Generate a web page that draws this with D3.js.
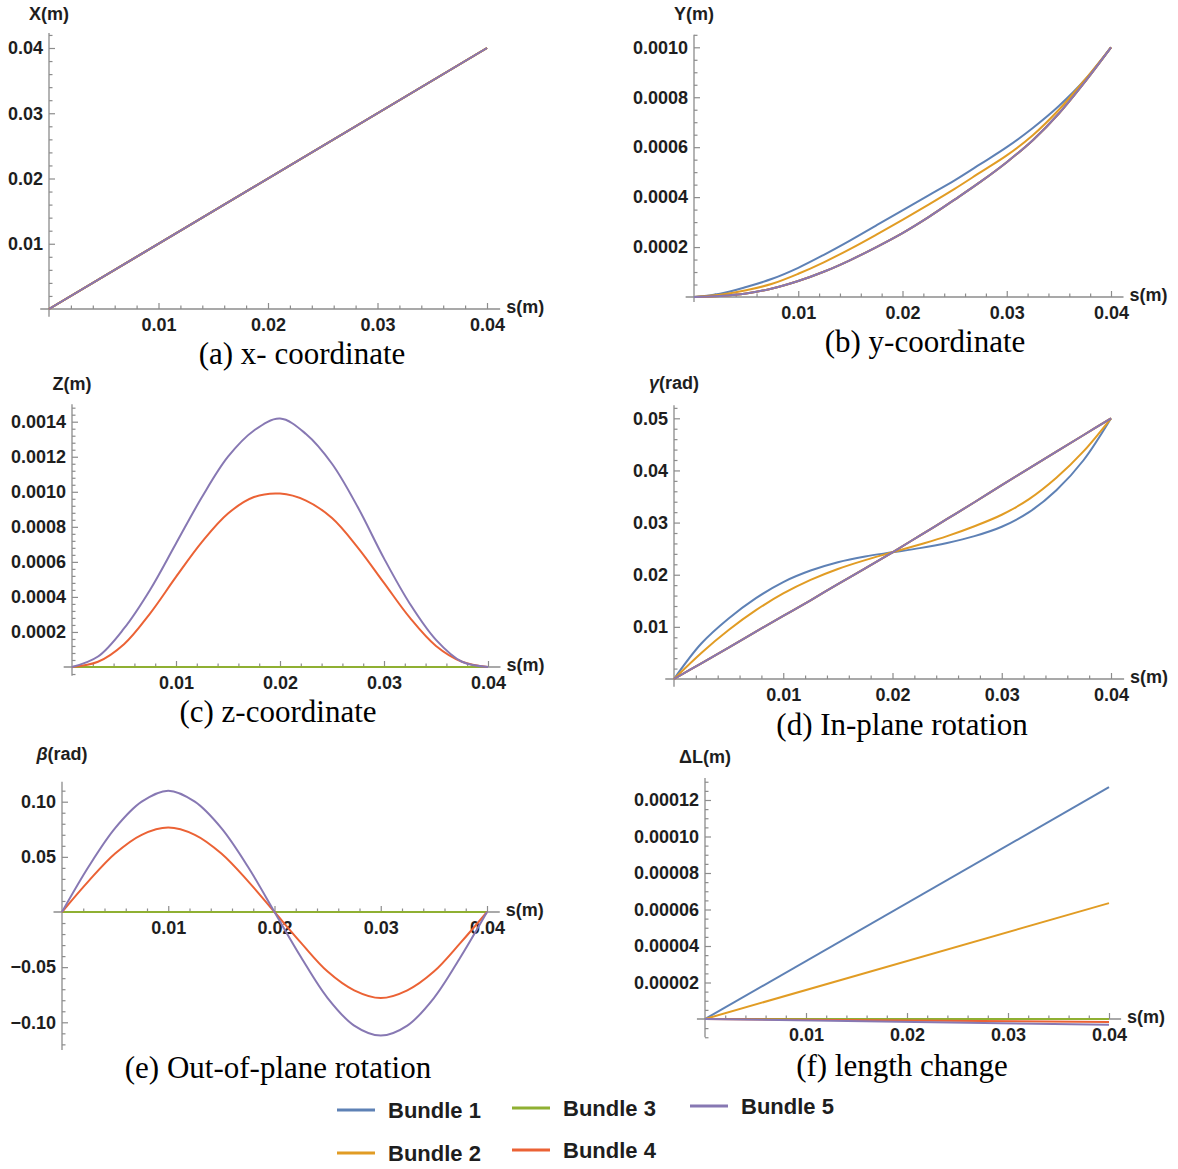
<!DOCTYPE html>
<html>
<head>
<meta charset="utf-8">
<script src="https://cdn.jsdelivr.net/npm/d3@7"></script>
<style>
  body { margin: 0; background: #fff; }
  svg text { font-family: "Liberation Sans", Arial, sans-serif; }
  .tick-label { font-size: 18px; font-weight: bold; fill: #1e1e1e; }
  .caption { font-family: "Liberation Serif", "Times New Roman", serif !important; font-size: 31px; fill: #000; }
  .legend-text { font-size: 22px; font-weight: bold; fill: #1e1e1e; }
</style>
</head>
<body>
<svg id="fig" width="1178" height="1169"></svg>
<script>
const bundleNames = ["Bundle 1", "Bundle 2", "Bundle 3", "Bundle 4", "Bundle 5"];
const bundleColors = ["#5e81b5", "#e19c24", "#8fb032", "#eb6235", "#8778b3"];

// arc length samples
const sFine = [0, 0.0025, 0.005, 0.0075, 0.01, 0.0125, 0.015, 0.0175, 0.02,
  0.0225, 0.025, 0.0275, 0.03, 0.0325, 0.035, 0.0375, 0.04];
const sEnds = [0, 0.04];
const zeroVals = [0, 0];

const xTickVals = [0.01, 0.02, 0.03, 0.04];
const xTickText = ["0.01", "0.02", "0.03", "0.04"];

// (a) x-coordinate, all bundles on the same line
const xCoordAll = [0, 0.04];
const yTicksA = [0.01, 0.02, 0.03, 0.04];
const yTextA = ["0.01", "0.02", "0.03", "0.04"];

// (b) y-coordinate
const yCoordB1 = [0, 0.000013, 0.00004, 0.000073, 0.000117, 0.00017, 0.000227, 0.000287, 0.000347,
  0.000407, 0.000467, 0.000533, 0.0006, 0.000677, 0.000765, 0.00087, 0.001];
const yCoordB2 = [0, 0.000009, 0.000027, 0.000053, 0.000093, 0.00014, 0.000193, 0.00025, 0.000309,
  0.00037, 0.000433, 0.0005, 0.000567, 0.000648, 0.00075, 0.00087, 0.001];
const yCoordB345 = [0, 0.000004, 0.000014, 0.000034, 0.000064, 0.000102, 0.000148, 0.0002, 0.000256,
  0.00032, 0.00039, 0.000462, 0.00054, 0.000628, 0.000735, 0.000862, 0.001];
const yTicksB = [0.0002, 0.0004, 0.0006, 0.0008, 0.001];
const yTextB = ["0.0002", "0.0004", "0.0006", "0.0008", "0.0010"];

// (c) z-coordinate
const zCoordB4 = [0, 0.00003, 0.00013, 0.000305, 0.000514, 0.000714, 0.000876, 0.00097, 0.00099,
  0.00095, 0.00085, 0.00068, 0.00048, 0.00028, 0.00012, 0.00003, 0];
const zCoordB5 = [0, 0.00006, 0.00022, 0.00044, 0.000705, 0.00097, 0.0012, 0.00135, 0.001418,
  0.00133, 0.00116, 0.00091, 0.00062, 0.00036, 0.000155, 0.00003, 0];
const yTicksC = [0.0002, 0.0004, 0.0006, 0.0008, 0.001, 0.0012, 0.0014];
const yTextC = ["0.0002", "0.0004", "0.0006", "0.0008", "0.0010", "0.0012", "0.0014"];

// (d) in-plane rotation
const gammaB1 = [0, 0.0068, 0.0116, 0.0155, 0.0186, 0.0208, 0.0224, 0.0235, 0.0243,
  0.0251, 0.0261, 0.0274, 0.0292, 0.032, 0.0362, 0.042, 0.05];
const gammaB2 = [0, 0.005, 0.0094, 0.0132, 0.0164, 0.019, 0.0211, 0.0228, 0.0243,
  0.0258, 0.0274, 0.0293, 0.0315, 0.0345, 0.0386, 0.0437, 0.05];
const gammaB345 = [0, 0.003, 0.006, 0.0091, 0.0121, 0.0151, 0.0182, 0.0212, 0.0243,
  0.0275, 0.0307, 0.0339, 0.0372, 0.0404, 0.0436, 0.0468, 0.05];
const yTicksD = [0.01, 0.02, 0.03, 0.04, 0.05];
const yTextD = ["0.01", "0.02", "0.03", "0.04", "0.05"];

// (e) out-of-plane rotation
const betaB4 = [0, 0.028, 0.053, 0.07, 0.0766, 0.07, 0.053, 0.028, 0,
  -0.028, -0.054, -0.071, -0.078, -0.071, -0.054, -0.028, 0];
const betaB5 = [0, 0.041, 0.076, 0.1, 0.11, 0.1, 0.076, 0.041, 0,
  -0.041, -0.078, -0.103, -0.112, -0.103, -0.078, -0.041, 0];
const yTicksE = [-0.1, -0.05, 0.05, 0.1];
const yTextE = ["\u22120.10", "\u22120.05", "0.05", "0.10"];

// (f) length change
const dLB1 = [0, 0.000127];
const dLB2 = [0, 0.0000635];
const dLB4 = [0, -0.0000016];
const dLB5 = [0, -0.0000032];
const yTicksF = [0.00002, 0.00004, 0.00006, 0.00008, 0.0001, 0.00012];
const yTextF = ["0.00002", "0.00004", "0.00006", "0.00008", "0.00010", "0.00012"];

const panels = [
  {
    yLabel: ["X(m)"], caption: "(a) x- coordinate",
    series: [[sEnds, xCoordAll], [sEnds, xCoordAll], [sEnds, xCoordAll], [sEnds, xCoordAll], [sEnds, xCoordAll]],
    xRange: [49, 487], yDomain: [0, 0.04], yRange: [309, 48], yLo: -0.0012, yHi: 0.0423,
    yTicks: yTicksA, yText: yTextA, yMinor: 0.002, labelBase: 20, capX: 302, capY: 364
  },
  {
    yLabel: ["Y(m)"], caption: "(b) y-coordinate",
    series: [[sFine, yCoordB1], [sFine, yCoordB2], [sFine, yCoordB345], [sFine, yCoordB345], [sFine, yCoordB345]],
    xRange: [694, 1111], yDomain: [0, 0.001], yRange: [297, 47.3], yLo: -0.00002, yHi: 0.00105,
    yTicks: yTicksB, yText: yTextB, yMinor: 0.00005, labelBase: 20, capX: 925, capY: 352
  },
  {
    yLabel: ["Z(m)"], caption: "(c) z-coordinate",
    series: [[sEnds, zeroVals], [sEnds, zeroVals], [sEnds, zeroVals], [sFine, zCoordB4], [sFine, zCoordB5]],
    xRange: [72, 488], yDomain: [0, 0.0014], yRange: [667, 421.7], yLo: -0.00005, yHi: 0.0015,
    yTicks: yTicksC, yText: yTextC, yMinor: 0.00004, labelBase: 390, capX: 278, capY: 722
  },
  {
    yLabel: ["\u03b3", "(rad)"], caption: "(d) In-plane rotation",
    series: [[sFine, gammaB1], [sFine, gammaB2], [sFine, gammaB345], [sFine, gammaB345], [sFine, gammaB345]],
    xRange: [674, 1111], yDomain: [0, 0.05], yRange: [679, 418.3], yLo: -0.0015, yHi: 0.0525,
    yTicks: yTicksD, yText: yTextD, yMinor: 0.002, labelBase: 389, capX: 902, capY: 735
  },
  {
    yLabel: ["\u03b2", "(rad)"], caption: "(e) Out-of-plane rotation",
    series: [[sEnds, zeroVals], [sEnds, zeroVals], [sEnds, zeroVals], [sFine, betaB4], [sFine, betaB5]],
    xRange: [62, 487], yDomain: [0, 0.1], yRange: [912, 801.7], yLo: -0.125, yHi: 0.118,
    yTicks: yTicksE, yText: yTextE, yMinor: 0.01, labelBase: 760, capX: 278, capY: 1078
  },
  {
    yLabel: ["\u0394L(m)"], caption: "(f) length change",
    series: [[sEnds, dLB1], [sEnds, dLB2], [sEnds, zeroVals], [sEnds, dLB4], [sEnds, dLB5]],
    xRange: [705, 1109], yDomain: [0, 0.00012], yRange: [1019, 800], yLo: -0.00001, yHi: 0.000132,
    yTicks: yTicksF, yText: yTextF, yMinor: 0.000005, labelBase: 763, capX: 902, capY: 1076
  }
];

const svg = d3.select("#fig");
const axisColor = "#8c8c8c";

function stepsBetween(lo, hi, step, skip) {
  const k0 = Math.ceil(lo / step - 1e-6);
  const k1 = Math.floor(hi / step + 1e-6);
  return d3.range(k0, k1 + 1).map((k) => k * step)
    .filter((v) => Math.abs(v) > step / 2 && !skip.some((m) => Math.abs(m - v) < step / 2));
}

function styleAxis(g) {
  g.select(".domain").remove();
  g.selectAll("line").attr("stroke", axisColor).attr("stroke-width", 1.2);
  g.attr("font-family", null).attr("font-size", null);
  g.selectAll("text").attr("class", "tick-label").attr("fill", null);
}

function drawPanel(p) {
  const x = d3.scaleLinear().domain([0, 0.04]).range(p.xRange);
  const y = d3.scaleLinear().domain(p.yDomain).range(p.yRange);
  const g = svg.append("g");
  const x0 = x(0);
  const y0 = y(0);
  const xLo = -0.0008;
  const xHi = 0.0412;

  // axis lines
  g.append("line")
    .attr("x1", x(xLo)).attr("x2", x(xHi)).attr("y1", y0).attr("y2", y0)
    .attr("stroke", axisColor).attr("stroke-width", 1.3);
  g.append("line")
    .attr("x1", x0).attr("x2", x0).attr("y1", y(p.yLo)).attr("y2", y(p.yHi))
    .attr("stroke", axisColor).attr("stroke-width", 1.3);

  // x ticks (pointing up) and labels
  const xMinor = stepsBetween(0, xHi, 0.002, xTickVals);
  g.append("g").attr("transform", `translate(0,${y0})`)
    .call(d3.axisTop(x).tickValues(xMinor).tickSize(3.5).tickFormat(""))
    .call(styleAxis);
  g.append("g").attr("transform", `translate(0,${y0})`)
    .call(d3.axisTop(x).tickValues(xTickVals).tickSize(6).tickFormat(""))
    .call(styleAxis);
  g.append("g").attr("transform", `translate(0,${y0})`)
    .call(d3.axisBottom(x).tickValues(xTickVals).tickSize(0).tickPadding(9)
      .tickFormat((d, i) => xTickText[i]))
    .call(styleAxis);

  // y ticks (pointing right) and labels
  const yMinor = stepsBetween(p.yLo, p.yHi, p.yMinor, p.yTicks);
  g.append("g").attr("transform", `translate(${x0},0)`)
    .call(d3.axisRight(y).tickValues(yMinor).tickSize(3.5).tickFormat(""))
    .call(styleAxis);
  g.append("g").attr("transform", `translate(${x0},0)`)
    .call(d3.axisRight(y).tickValues(p.yTicks).tickSize(6).tickFormat(""))
    .call(styleAxis);
  g.append("g").attr("transform", `translate(${x0},0)`)
    .call(d3.axisLeft(y).tickValues(p.yTicks).tickSize(0).tickPadding(6)
      .tickFormat((d, i) => p.yText[i]))
    .call(styleAxis);

  // axis titles
  const yl = g.append("text")
    .attr("class", "tick-label")
    .attr("x", x0).attr("y", p.labelBase)
    .attr("text-anchor", "middle");
  if (p.yLabel.length > 1) {
    yl.append("tspan").attr("font-style", "italic").text(p.yLabel[0]);
    yl.append("tspan").text(p.yLabel[1]);
  } else {
    yl.text(p.yLabel[0]);
  }
  g.append("text")
    .attr("class", "tick-label")
    .attr("x", x(xHi) + 6).attr("y", y0 + 4)
    .text("s(m)");

  // curves
  const line = d3.line()
    .x((d) => x(d[0]))
    .y((d) => y(d[1]))
    .curve(d3.curveCatmullRom.alpha(0.5));

  p.series.forEach(([sArr, vArr], i) => {
    g.append("path")
      .datum(sArr.map((s, k) => [s, vArr[k]]))
      .attr("d", line)
      .attr("fill", "none")
      .attr("stroke", bundleColors[i])
      .attr("stroke-width", 2)
      .attr("stroke-linejoin", "round");
  });

  svg.append("text")
    .attr("class", "caption")
    .attr("x", p.capX).attr("y", p.capY)
    .attr("text-anchor", "middle")
    .text(p.caption);
}

panels.forEach(drawPanel);

// legend
const legendX = [337, 337, 512, 512, 690];
const legendY = [1110, 1153, 1108, 1150, 1106];
const legend = svg.append("g");
bundleNames.forEach((name, i) => {
  legend.append("line")
    .attr("x1", legendX[i]).attr("x2", legendX[i] + 38)
    .attr("y1", legendY[i]).attr("y2", legendY[i])
    .attr("stroke", bundleColors[i]).attr("stroke-width", 3);
  legend.append("text")
    .attr("class", "legend-text")
    .attr("x", legendX[i] + 51).attr("y", legendY[i] + 8)
    .text(name);
});
</script>
</body>
</html>
